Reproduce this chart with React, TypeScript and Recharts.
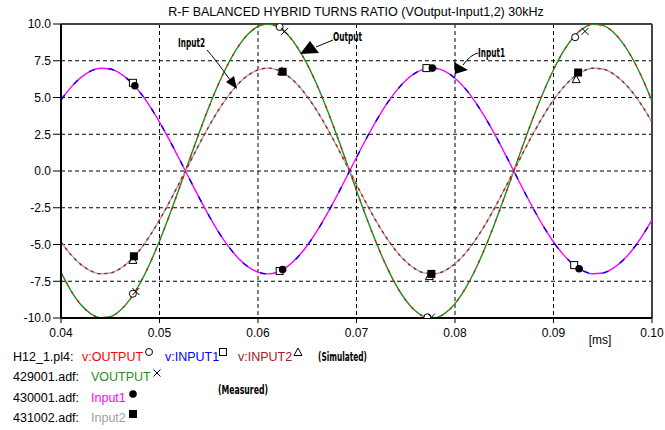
import React from "react";
import {
  ComposedChart,
  Line,
  Scatter,
  XAxis,
  YAxis,
  CartesianGrid,
  ReferenceLine,
} from "recharts";

const FONT = "'Liberation Sans', Arial, sans-serif";
const NARROW = "'Liberation Sans Narrow', 'DejaVu Sans Condensed', sans-serif";

const xTicks = [0.04, 0.05, 0.06, 0.07, 0.08, 0.09, 0.1];
const yTicks = [-10, -7.5, -5, -2.5, 0, 2.5, 5, 7.5, 10];

// time samples [ms]
const time = [
  0.040, 0.041, 0.042, 0.043, 0.044, 0.045, 0.046, 0.047, 0.048, 0.049,
  0.050, 0.051, 0.052, 0.053, 0.054, 0.055, 0.056, 0.057, 0.058, 0.059,
  0.060, 0.061, 0.062, 0.063, 0.064, 0.065, 0.066, 0.067, 0.068, 0.069,
  0.070, 0.071, 0.072, 0.073, 0.074, 0.075, 0.076, 0.077, 0.078, 0.079,
  0.080, 0.081, 0.082, 0.083, 0.084, 0.085, 0.086, 0.087, 0.088, 0.089,
  0.090, 0.091, 0.092, 0.093, 0.094, 0.095, 0.096, 0.097, 0.098, 0.099,
  0.100,
];

const outputV = [
  -6.9, -8.13, -9.08, -9.7, -9.98, -9.91, -9.49, -8.73, -7.67, -6.33,
  -4.76, -3.03, -1.19, 0.69, 2.55, 4.32, 5.93, 7.33, 8.48, 9.32,
  9.83, 10.0, 9.81, 9.28, 8.41, 7.25, 5.83, 4.2, 2.43, 0.57,
  -1.32, -3.15, -4.87, -6.42, -7.75, -8.79, -9.53, -9.93, -9.98, -9.67,
  -9.02, -8.05, -6.8, -5.31, -3.62, -1.81, 0.06, 1.94, 3.74, 5.41,
  6.89, 8.13, 9.08, 9.7, 9.98, 9.91, 9.49, 8.73, 7.67, 6.33,
  4.76,
];

const input1V = [
  4.83, 5.69, 6.35, 6.79, 6.99, 6.94, 6.64, 6.11, 5.37, 4.43,
  3.33, 2.12, 0.83, -0.48, -1.78, -3.02, -4.15, -5.13, -5.93, -6.52,
  -6.88, -7.0, -6.87, -6.49, -5.89, -5.07, -4.08, -2.94, -1.7, -0.4,
  0.92, 2.21, 3.41, 4.5, 5.42, 6.16, 6.67, 6.95, 6.98, 6.77,
  6.31, 5.64, 4.76, 3.71, 2.54, 1.27, -0.04, -1.36, -2.62, -3.79,
  -4.83, -5.69, -6.35, -6.79, -6.99, -6.94, -6.64, -6.11, -5.37, -4.43,
  -3.33,
];

const input2V = [
  -4.83, -5.69, -6.35, -6.79, -6.99, -6.94, -6.64, -6.11, -5.37, -4.43,
  -3.33, -2.12, -0.83, 0.48, 1.78, 3.02, 4.15, 5.13, 5.93, 6.52,
  6.88, 7.0, 6.87, 6.49, 5.89, 5.07, 4.08, 2.94, 1.7, 0.4,
  -0.92, -2.21, -3.41, -4.5, -5.42, -6.16, -6.67, -6.95, -6.98, -6.77,
  -6.31, -5.64, -4.76, -3.71, -2.54, -1.27, 0.04, 1.36, 2.62, 3.79,
  4.83, 5.69, 6.35, 6.79, 6.99, 6.94, 6.64, 6.11, 5.37, 4.43,
  3.33,
];

// marker positions
const simOutputMarks = [
  { t: 0.0473, v: -8.35 },
  { t: 0.0622, v: 9.8 },
  { t: 0.0772, v: -9.95 },
  { t: 0.0922, v: 9.1 },
];
const measOutputMarks = [
  { t: 0.0476, v: -8.2 },
  { t: 0.0627, v: 9.5 },
  { t: 0.0776, v: -9.95 },
  { t: 0.0932, v: 9.5 },
];
const simInput1Marks = [
  { t: 0.0473, v: 6.0 },
  { t: 0.0622, v: -6.8 },
  { t: 0.0771, v: 7.0 },
  { t: 0.0921, v: -6.4 },
];
const measInput1Marks = [
  { t: 0.0475, v: 5.8 },
  { t: 0.0625, v: -6.7 },
  { t: 0.0777, v: 7.0 },
  { t: 0.0926, v: -6.65 },
];
const simInput2Marks = [
  { t: 0.0473, v: -6.05 },
  { t: 0.0624, v: 6.8 },
  { t: 0.0774, v: -7.15 },
  { t: 0.0923, v: 6.25 },
];
const measInput2Marks = [
  { t: 0.0474, v: -5.8 },
  { t: 0.0625, v: 6.75 },
  { t: 0.0776, v: -7.0 },
  { t: 0.0925, v: 6.7 },
];

const data = time.map((t, i) => ({
  t,
  out: outputV[i],
  in1: input1V[i],
  in2: input2V[i],
}));

type P = { cx?: number; cy?: number };

const OpenCircle = ({ cx = 0, cy = 0 }: P) => (
  <circle cx={cx} cy={cy} r={3.5} fill="#fff" stroke="#000" strokeWidth={1} />
);
const OpenSquare = ({ cx = 0, cy = 0 }: P) => (
  <rect x={cx - 3.5} y={cy - 3.5} width={7} height={7} fill="#fff" stroke="#000" strokeWidth={1} />
);
const OpenTriangle = ({ cx = 0, cy = 0 }: P) => (
  <polygon points={`${cx},${cy - 4} ${cx - 4},${cy + 3.5} ${cx + 4},${cy + 3.5}`} fill="#fff" stroke="#000" strokeWidth={1} />
);
const Cross = ({ cx = 0, cy = 0 }: P) => (
  <path d={`M${cx - 3.5},${cy - 3.5}L${cx + 3.5},${cy + 3.5}M${cx - 3.5},${cy + 3.5}L${cx + 3.5},${cy - 3.5}`} stroke="#000" strokeWidth={1} />
);
const FilledHex = ({ cx = 0, cy = 0 }: P) => (
  <circle cx={cx} cy={cy} r={3.8} fill="#000" />
);
const FilledSquare = ({ cx = 0, cy = 0 }: P) => (
  <rect x={cx - 4} y={cy - 4} width={8} height={8} fill="#000" />
);

const Legend = () => (
  <svg width={665} height={430} style={{ position: "absolute", left: 0, top: 0, pointerEvents: "none" }}>
    <text x={356} y={16} textAnchor="middle" fontFamily={FONT} fontSize={12.5} fill="#000">
      R-F BALANCED HYBRID TURNS RATIO (VOutput-Input1,2) 30kHz
    </text>
    <text x={600} y={344} textAnchor="middle" fontFamily={FONT} fontSize={12} fill="#000">[ms]</text>

    {/* annotations */}
    <g fontFamily={NARROW} fontWeight="bold" fontSize={12.5} fill="#000">
      <text x={178} y={47} textLength={27} lengthAdjust="spacingAndGlyphs">Input2</text>
      <path d="M207,50 Q216,60 230,80" stroke="#000" fill="none" strokeWidth={1} />
      <polygon points="237,89 226,82 234,76" fill="#000" />

      <text x={333} y={41} textLength={29} lengthAdjust="spacingAndGlyphs">Output</text>
      <path d="M333,40 L316,47" stroke="#000" fill="none" strokeWidth={1} />
      <polygon points="310,41 300,54 319,53" fill="#000" />

      <text x={478} y={57} textLength={27} lengthAdjust="spacingAndGlyphs">Input1</text>
      <path d="M478,53 Q470,55 463,65" stroke="#000" fill="none" strokeWidth={1} />
      <polygon points="454,62 468,70 455,74" fill="#000" />
    </g>

    {/* legend */}
    <g fontFamily={FONT} fontSize={12.5}>
      <text x={13} y={361} fill="#000">H12_1.pl4:</text>
      <text x={82} y={361} fill="#ff0000">v:OUTPUT</text>
      <OpenCircle cx={149} cy={352} />
      <text x={165} y={361} fill="#0000ff">v:INPUT1</text>
      <OpenSquare cx={223} cy={352} />
      <text x={238} y={361} fill="#a02020">v:INPUT2</text>
      <OpenTriangle cx={298} cy={352} />

      <text x={13} y={381} fill="#000">429001.adf:</text>
      <text x={91} y={381} fill="#1e8c1e">VOUTPUT</text>
      <Cross cx={157} cy={373} />

      <text x={13} y={402} fill="#000">430001.adf:</text>
      <text x={91} y={402} fill="#ff00ff">Input1</text>
      <FilledHex cx={133} cy={394} />

      <text x={13} y={422} fill="#000">431002.adf:</text>
      <text x={91} y={422} fill="#a0a0a0">Input2</text>
      <FilledSquare cx={133} cy={414} />
    </g>
    <g fontFamily={NARROW} fontWeight="bold" fontSize={12} fill="#000">
      <text x={318} y={361} textLength={49} lengthAdjust="spacingAndGlyphs">(Simulated)</text>
      <text x={218} y={394} textLength={50} lengthAdjust="spacingAndGlyphs">(Measured)</text>
    </g>
  </svg>
);

export default function App() {
  return (
    <div style={{ position: "absolute", left: 0, top: 0, width: 665, height: 430, background: "#fff" }}>
      <ComposedChart width={665} height={430} data={data} margin={{ top: 24, right: 13, bottom: 82, left: 0 }}>
        <CartesianGrid stroke="#000" strokeDasharray="4 3" strokeWidth={1} />
        <XAxis
          dataKey="t"
          type="number"
          domain={[0.04, 0.1]}
          ticks={xTicks}
          tickFormatter={(v: number) => v.toFixed(2)}
          tick={{ fill: "#000", fontSize: 12, fontFamily: FONT }}
          tickSize={5}
          tickMargin={5}
          height={30}
          axisLine={{ stroke: "#000", strokeWidth: 2 }}
          tickLine={{ stroke: "#000" }}
          allowDataOverflow
        />
        <YAxis
          type="number"
          domain={[-10, 10]}
          ticks={yTicks}
          tickFormatter={(v: number) => v.toFixed(1)}
          tick={{ fill: "#000", fontSize: 12, fontFamily: FONT }}
          tickSize={8}
          width={61}
          axisLine={{ stroke: "#000", strokeWidth: 2 }}
          tickLine={{ stroke: "#000" }}
          allowDataOverflow
        />
        <ReferenceLine y={10} stroke="#444" strokeWidth={2} />
        <ReferenceLine x={0.1} stroke="#444" strokeWidth={2} />

        <Line dataKey="out" type="monotone" stroke="#1e8c1e" strokeWidth={1.4} dot={false} isAnimationActive={false} />
        <Line dataKey="in1" type="monotone" stroke="#ff00ff" strokeWidth={1.4} dot={false} isAnimationActive={false} />
        <Line dataKey="in2" type="monotone" stroke="#a8a8a8" strokeWidth={1.4} dot={false} isAnimationActive={false} />
        <Line dataKey="out" type="monotone" stroke="#ff0000" strokeWidth={1.4} strokeDasharray="2 9" dot={false} isAnimationActive={false} />
        <Line dataKey="in1" type="monotone" stroke="#0000ff" strokeWidth={1.4} strokeDasharray="6 14" dot={false} isAnimationActive={false} />
        <Line dataKey="in2" type="monotone" stroke="#a02020" strokeWidth={1.4} strokeDasharray="3 4" dot={false} isAnimationActive={false} />

        <Scatter data={simOutputMarks} dataKey="v" shape={OpenCircle} isAnimationActive={false} />
        <Scatter data={measOutputMarks} dataKey="v" shape={Cross} isAnimationActive={false} />
        <Scatter data={simInput1Marks} dataKey="v" shape={OpenSquare} isAnimationActive={false} />
        <Scatter data={measInput1Marks} dataKey="v" shape={FilledHex} isAnimationActive={false} />
        <Scatter data={simInput2Marks} dataKey="v" shape={OpenTriangle} isAnimationActive={false} />
        <Scatter data={measInput2Marks} dataKey="v" shape={FilledSquare} isAnimationActive={false} />
      </ComposedChart>
      <Legend />
    </div>
  );
}
